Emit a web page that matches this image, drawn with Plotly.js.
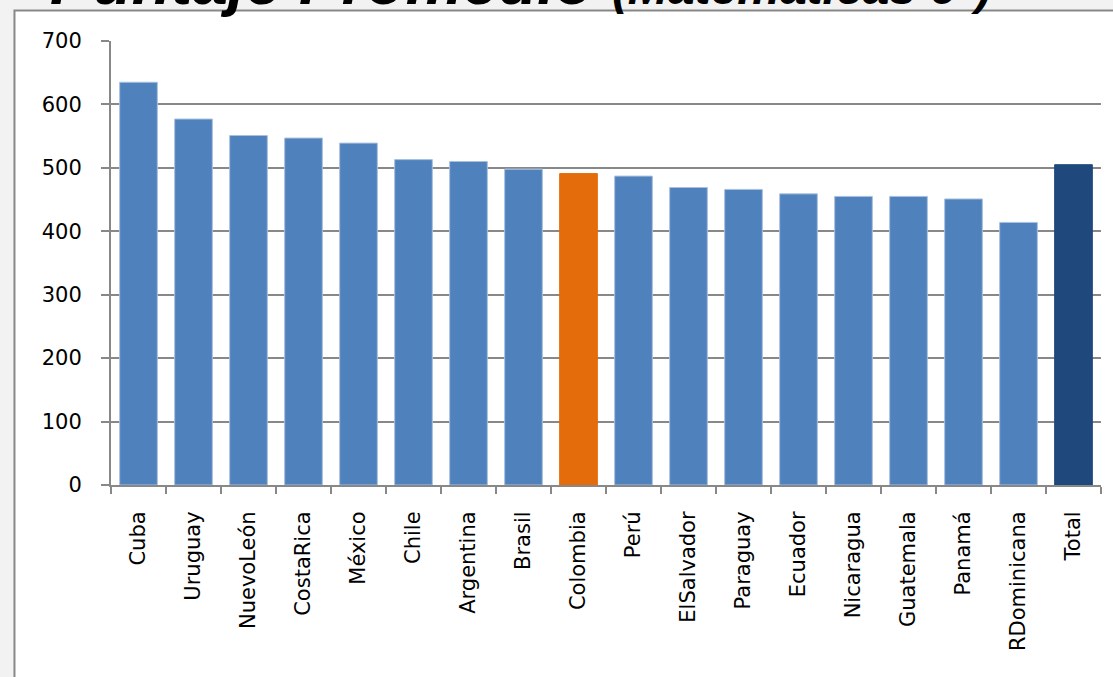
<!DOCTYPE html>
<html>
<head>
<meta charset="utf-8">
<script src="https://cdn.plot.ly/plotly-3.0.1.min.js"></script>
<style>
html,body{margin:0;padding:0;background:#f2f2f2;overflow:hidden;}
#chart{width:1113px;height:677px;}
</style>
</head>
<body>
<div id="chart"></div>
<script>
const categories = ["Cuba","Uruguay","NuevoLeón","CostaRica","México","Chile","Argentina","Brasil","Colombia","Perú","ElSalvador","Paraguay","Ecuador","Nicaragua","Guatemala","Panamá","RDominicana","Total"];
const scores = [635, 577, 551, 547, 539, 513, 510, 498, 491, 487, 469, 466, 459, 455, 455, 451, 414, 505];
const barColors = ["#4f81bd","#4f81bd","#4f81bd","#4f81bd","#4f81bd","#4f81bd","#4f81bd","#4f81bd","#e46c0a","#4f81bd","#4f81bd","#4f81bd","#4f81bd","#4f81bd","#4f81bd","#4f81bd","#4f81bd","#1f497d"];
const barEdges = ["#a9c1de","#a9c1de","#a9c1de","#a9c1de","#a9c1de","#a9c1de","#a9c1de","#a9c1de","#e46c0a","#a9c1de","#a9c1de","#a9c1de","#a9c1de","#a9c1de","#a9c1de","#a9c1de","#a9c1de","#1f497d"];
const yTicks = [0,100,200,300,400,500,600,700];
const titleText = "<b><i>Puntaje Promedio</i></b> <b><i><span style='font-size:48px'>(Matemáticas 6°)</span></i></b>";

const trace = {
  type: "bar",
  x: categories,
  y: scores,
  marker: {color: barColors, line: {color: barEdges, width: 1}},
  hoverinfo: "x+y"
};

const layout = {
  width: 1113,
  height: 677,
  margin: {l: 111, r: 12, t: 41, b: 192, pad: 0},
  paper_bgcolor: "#f2f2f2",
  plot_bgcolor: "rgba(0,0,0,0)",
  bargap: 0.315,
  showlegend: false,
  xaxis: {
    type: "category",
    tickangle: -90,
    tickfont: {family: "DejaVu Sans", size: 21, color: "#000"},
    showline: true, linecolor: "#888888", linewidth: 2,
    ticks: "outside", tickson: "boundaries", ticklen: 7, tickcolor: "#888888", tickwidth: 2,
    ticklabelstandoff: 16,
    showgrid: false, zeroline: false, fixedrange: true
  },
  yaxis: {
    range: [0, 700],
    tickvals: yTicks,
    ticktext: yTicks.map(String),
    tickfont: {family: "DejaVu Sans", size: 21, color: "#000"},
    showline: true, linecolor: "#888888", linewidth: 2,
    ticks: "outside", ticklen: 8, tickcolor: "#888888", tickwidth: 2,
    ticklabelstandoff: 15,
    showgrid: true, gridcolor: "#888888", gridwidth: 2,
    zeroline: false, fixedrange: true
  },
  shapes: [{
    type: "rect", xref: "paper", yref: "paper", layer: "below",
    x0: -0.0975, x1: 1.03, y0: -0.47, y1: 1.0686,
    fillcolor: "#ffffff", line: {color: "#888888", width: 2}
  }],
  annotations: [{
    xref: "paper", yref: "paper", x: -0.064, y: 1.0465,
    xanchor: "left", yanchor: "bottom", showarrow: false,
    text: titleText,
    font: {family: "Liberation Sans", size: 64, color: "#000"}
  }]
};

Plotly.newPlot("chart", [trace], layout, {displayModeBar: false, staticPlot: true});
</script>
</body>
</html>
